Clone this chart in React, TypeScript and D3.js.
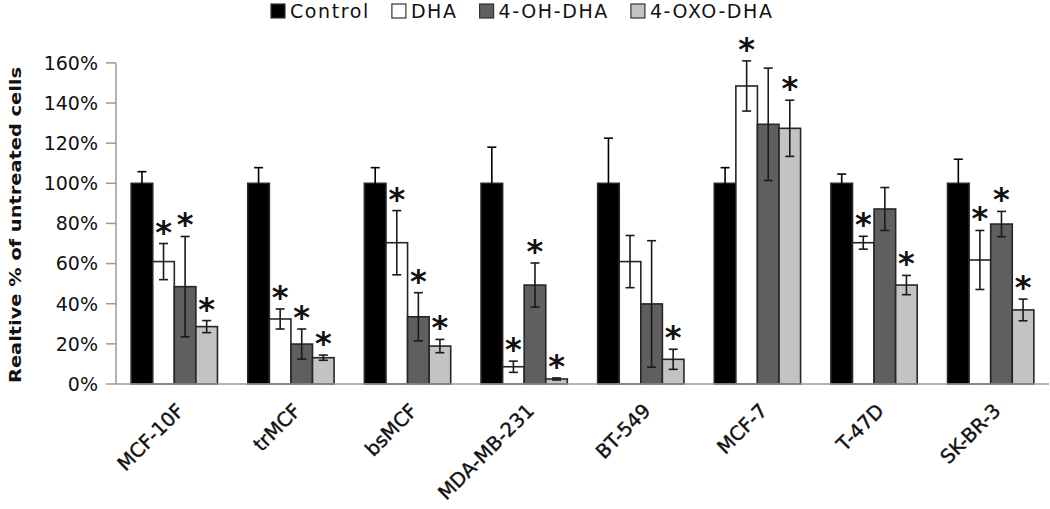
import React, { useEffect, useRef } from "react";
import * as d3 from "d3";

const categories = ["MCF-10F", "trMCF", "bsMCF", "MDA-MB-231", "BT-549", "MCF-7", "T-47D", "SK-BR-3"];
const seriesNames = ["Control", "DHA", "4-OH-DHA", "4-OXO-DHA"];
const controlMean = [100, 100, 100, 100, 100, 100, 100, 100];
const controlErr = [5.8, 7.8, 7.8, 18, 22.5, 7.8, 4.6, 12];
const dhaMean = [61, 32.4, 70.4, 8.6, 61, 148.5, 70.4, 61.8];
const dhaErr = [9, 5, 16, 2.8, 13, 12.5, 3.2, 14.7];
const ohMean = [48.5, 19.9, 33.5, 49.3, 39.9, 129.4, 87.2, 79.7];
const ohErr = [25, 7.5, 12, 11, 31.5, 28, 10.7, 6.3];
const oxoMean = [28.6, 13.1, 18.9, 2.5, 12.3, 127.4, 49.3, 36.9];
const oxoErr = [3, 1.3, 3.3, 0.5, 5, 14, 4.8, 5.4];
const controlSig = [0, 0, 0, 0, 0, 0, 0, 0];
const dhaSig = [1, 1, 1, 1, 0, 1, 1, 1];
const ohSig = [1, 1, 1, 1, 0, 0, 0, 1];
const oxoSig = [1, 1, 1, 1, 1, 1, 1, 1];
const yTicks = [0, 20, 40, 60, 80, 100, 120, 140, 160];
const yTitle = "Realtive % of untreated cells";

const colors = ["#000000", "#ffffff", "#5f5f5f", "#c3c3c3"];

export default function App() {
  const ref = useRef<SVGSVGElement>(null);

  useEffect(() => {
    const svg = d3.select(ref.current);
    svg.selectAll("*").remove();
    const x0 = 116, x1 = 1049, yBase = 384, yTop = 62.9;

    const means = [controlMean, dhaMean, ohMean, oxoMean];
    const errs = [controlErr, dhaErr, ohErr, oxoErr];
    const sigs = [controlSig, dhaSig, ohSig, oxoSig];

    const data = categories.map((c, i) => ({
      cat: c,
      vals: seriesNames.map((s, j) => ({ s, j, m: means[j][i], e: errs[j][i], sig: sigs[j][i] })),
    }));

    const x = d3.scaleBand<string>().domain(categories).range([x0, x1]).paddingInner(0.26).paddingOuter(0.13);
    const xs = d3.scaleBand<string>().domain(seriesNames).range([0, x.bandwidth()]).padding(0);
    const y = d3.scaleLinear().domain([0, 160]).range([yBase, yTop]);

    const font = "'DejaVu Sans', sans-serif";

    // axes
    const axisColor = "#9a9a9a";
    svg.append("line").attr("x1", x0).attr("x2", x0).attr("y1", y(160)).attr("y2", yBase)
      .attr("stroke", axisColor).attr("stroke-width", 1.5);
    const yt = svg.append("g");
    yTicks.forEach((t) => {
      yt.append("line").attr("x1", x0 - 10).attr("x2", x0).attr("y1", y(t)).attr("y2", y(t))
        .attr("stroke", axisColor).attr("stroke-width", 1.5);
      yt.append("text").attr("x", 98).attr("y", y(t)).attr("dy", "0.36em")
        .attr("text-anchor", "end").attr("font-family", font).attr("font-size", 19).attr("fill", "#111")
        .text(`${t}%`);
    });

    // bars
    const g = svg.append("g");
    data.forEach((d) => {
      const gx = x(d.cat)!;
      d.vals.forEach((v) => {
        const bx = gx + xs(v.s)!;
        const bw = xs.bandwidth();
        g.append("rect").attr("x", bx).attr("y", y(v.m)).attr("width", bw).attr("height", yBase - y(v.m))
          .attr("fill", colors[v.j]).attr("stroke", "#262626").attr("stroke-width", 1.6);
        const cx = bx + bw / 2;
        const top = y(v.m + v.e);
        const bot = y(Math.max(0, v.m - v.e));
        const capW = 4.5;
        const errColor = v.j === 0 ? "#000" : "#1a1a1a";
        g.append("line").attr("x1", cx).attr("x2", cx).attr("y1", top).attr("y2", bot)
          .attr("stroke", errColor).attr("stroke-width", 1.6);
        g.append("line").attr("x1", cx - capW).attr("x2", cx + capW).attr("y1", top).attr("y2", top)
          .attr("stroke", errColor).attr("stroke-width", 1.6);
        g.append("line").attr("x1", cx - capW).attr("x2", cx + capW).attr("y1", bot).attr("y2", bot)
          .attr("stroke", errColor).attr("stroke-width", 1.6);
        if (v.sig) {
          g.append("text").attr("x", cx).attr("y", top - 1).attr("text-anchor", "middle")
            .attr("font-family", font).attr("font-weight", "bold").attr("font-size", 32).attr("fill", "#111")
            .text("*");
        }
      });
    });

    // x axis line
    svg.append("line").attr("x1", x0).attr("x2", x1).attr("y1", yBase).attr("y2", yBase)
      .attr("stroke", axisColor).attr("stroke-width", 1.5);

    // x labels
    categories.forEach((c) => {
      const cx = x(c)! + x.bandwidth() / 2;
      svg.append("text").attr("transform", `translate(${cx + 11},${412}) rotate(-45)`)
        .attr("text-anchor", "end").attr("font-family", font).attr("font-size", 19.5).attr("fill", "#111")
        .attr("stroke", "#111").attr("stroke-width", 0.4)
        .text(c);
    });

    // y title
    svg.append("text").attr("transform", `translate(21,225) rotate(-90)`)
      .attr("text-anchor", "middle").attr("font-family", font).attr("font-weight", "bold")
      .attr("font-size", 16.5).attr("fill", "#111").attr("textLength", 316).attr("lengthAdjust", "spacingAndGlyphs")
      .text(yTitle);

    // legend
    const leg = svg.append("g");
    let lx = 271;
    const sq = 14;
    seriesNames.forEach((s, j) => {
      leg.append("rect").attr("x", lx).attr("y", 4).attr("width", sq).attr("height", sq)
        .attr("fill", colors[j]).attr("stroke", "#333").attr("stroke-width", 1.2);
      const t = leg.append("text").attr("x", lx + sq + 5).attr("y", 11).attr("dy", "0.36em")
        .attr("font-family", font).attr("font-size", 19).attr("letter-spacing", 1.6).attr("fill", "#111")
        .text(s);
      const tw = (t.node() as SVGTextElement).getComputedTextLength();
      lx = lx + sq + 5 + tw + 22;
    });
  }, []);

  return (
    <svg ref={ref} width={1050} height={509}
      style={{ position: "absolute", left: 0, top: 0, background: "#fff", display: "block" }} />
  );
}
